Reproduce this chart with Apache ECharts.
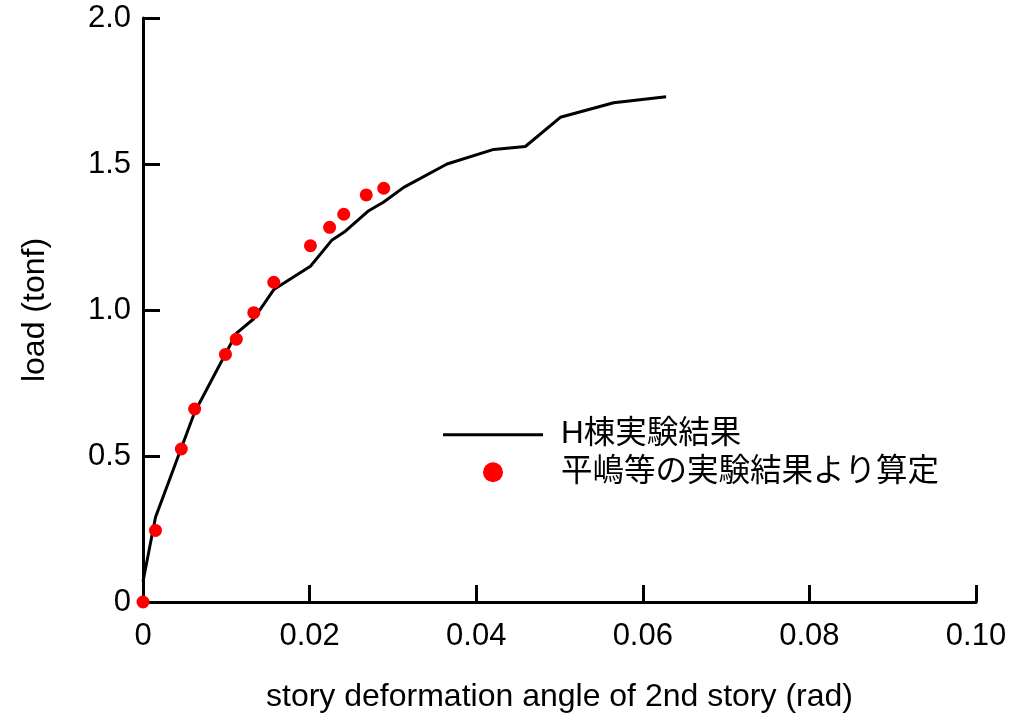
<!DOCTYPE html>
<html>
<head>
<meta charset="utf-8">
<script src="https://cdn.jsdelivr.net/npm/echarts@6/dist/echarts.min.js"></script>
<style>
  html, body { margin: 0; padding: 0; background: #fff; }
  #chart { width: 1025px; height: 715px; }
</style>
</head>
<body>
<div id="chart"></div>
<script>
// Load vs. story deformation angle (2nd story)
const seriesNames = ['H棟実験結果', '平嶋等の実験結果より算定'];

// H棟 test result (polyline)
const testAngle = [0, 0.0015, 0.0062, 0.0112, 0.0133, 0.0157, 0.0201, 0.0227, 0.0243, 0.0271, 0.0289, 0.0313, 0.0365, 0.0421, 0.0459, 0.0501, 0.0565, 0.0628];
const testLoad  = [0.07, 0.29, 0.65, 0.92, 0.97, 1.07, 1.15, 1.24, 1.27, 1.34, 1.37, 1.42, 1.50, 1.55, 1.56, 1.66, 1.71, 1.73];

// Values computed from Hirashima et al. tests (points)
const calcAngle = [0, 0.0015, 0.0046, 0.0062, 0.0099, 0.0112, 0.0133, 0.0157, 0.0201, 0.0224, 0.0241, 0.0268, 0.0289];
const calcLoad  = [0, 0.245, 0.524, 0.661, 0.848, 0.900, 0.991, 1.095, 1.220, 1.283, 1.328, 1.394, 1.417];

const xTickLabels = { '0': '0', '0.02': '0.02', '0.04': '0.04', '0.06': '0.06', '0.08': '0.08', '0.1': '0.10' };
const yTickLabels = { '0': '0', '0.5': '0.5', '1': '1.0', '1.5': '1.5', '2': '2.0' };

const FONT = "'Liberation Sans', Arial, 'Noto Sans CJK JP', sans-serif";

const chart = echarts.init(document.getElementById('chart'), null, { renderer: 'canvas' });

const axisCommon = {
  axisLine: { show: true, onZero: false, lineStyle: { color: '#000', width: 3 } },
  axisTick: { show: true, inside: true, length: 17, lineStyle: { color: '#000', width: 3 } },
  splitLine: { show: false },
  nameTextStyle: { color: '#000', fontSize: 32, fontFamily: FONT },
  axisLabel: { color: '#000', fontSize: 31, fontFamily: FONT }
};

chart.setOption({
  animation: false,
  backgroundColor: '#fff',
  grid: { left: 143, right: 49, top: 18, bottom: 113, containLabel: false, outerBoundsMode: 'none' },
  xAxis: Object.assign({}, axisCommon, {
    type: 'value',
    min: 0, max: 0.1, interval: 0.02,
    name: 'story deformation angle of 2nd story (rad)',
    nameLocation: 'middle',
    nameGap: 79,
    axisLabel: Object.assign({}, axisCommon.axisLabel, {
      margin: 19,
      formatter: v => xTickLabels[String(+v.toFixed(2))]
    })
  }),
  yAxis: Object.assign({}, axisCommon, {
    type: 'value',
    min: 0, max: 2, interval: 0.5,
    name: 'load (tonf)',
    nameLocation: 'middle',
    nameRotate: 90,
    nameGap: 92,
    axisLabel: Object.assign({}, axisCommon.axisLabel, {
      margin: 12,
      formatter: v => yTickLabels[String(+v.toFixed(1))]
    })
  }),
  legend: {
    orient: 'vertical',
    left: 438,
    top: 414,
    itemWidth: 100,
    itemHeight: 20,
    itemGap: 6,
    textStyle: { color: '#000', fontSize: 31.5, fontFamily: FONT, padding: [0, 0, 0, 13] },
    data: [
      { name: seriesNames[0], icon: 'path://M0,0 L100,0 L100,3 L0,3 Z' },
      { name: seriesNames[1], icon: 'circle' }
    ]
  },
  series: [
    {
      name: seriesNames[0],
      type: 'line',
      data: testAngle.map((x, i) => [x, testLoad[i]]),
      showSymbol: false,
      symbol: 'none',
      lineStyle: { color: '#000', width: 3 },
      itemStyle: { color: '#000' },
      z: 2
    },
    {
      name: seriesNames[1],
      type: 'scatter',
      data: calcAngle.map((x, i) => [x, calcLoad[i]]),
      symbol: 'circle',
      symbolSize: 13,
      itemStyle: { color: '#ff0000', opacity: 1 },
      z: 3
    }
  ]
});
</script>
</body>
</html>
